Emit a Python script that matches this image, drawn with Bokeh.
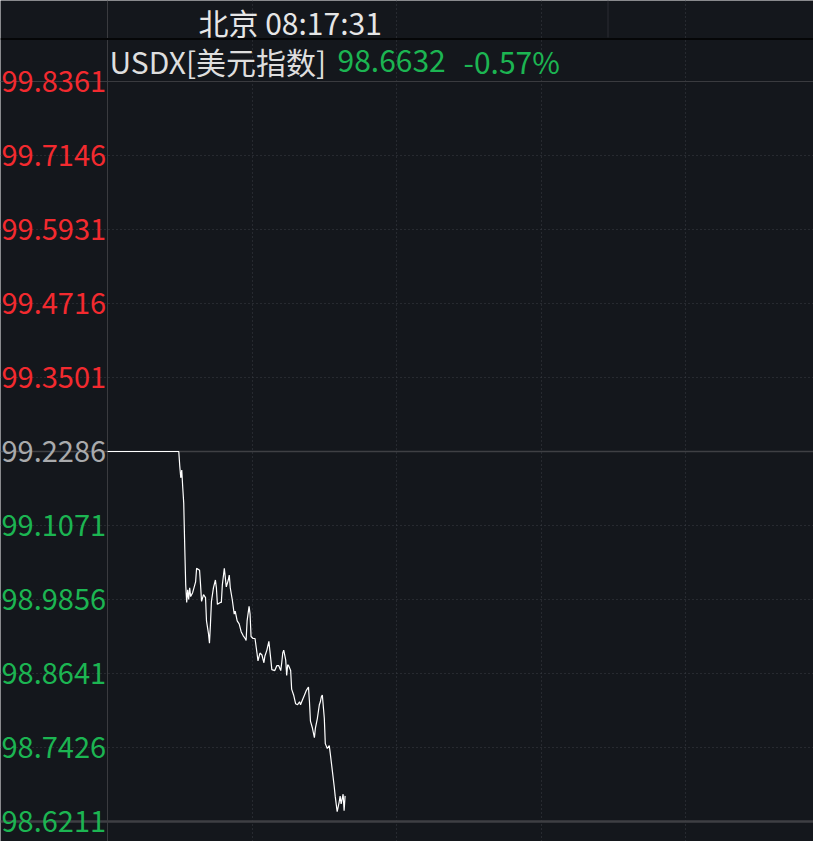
from bokeh.plotting import figure
from bokeh.models import Range1d, Span, Grid, FixedTicker, ColumnDataSource
from bokeh.core.properties import value
from bokeh.embed import file_html
from bokeh.resources import INLINE

# ---------------- data ----------------
title_text = "北京 08:17:31"
symbol_text = "USDX[美元指数]"
last_price_text = "98.6632"
change_text = "-0.57%"

prev_close = 99.2286
y_ticks = [99.8361, 99.7146, 99.5931, 99.4716, 99.3501, 99.2286,
           99.1071, 98.9856, 98.8641, 98.7426, 98.6211]
y_tick_labels = ["99.8361", "99.7146", "99.5931", "99.4716", "99.3501", "99.2286",
                 "99.1071", "98.9856", "98.8641", "98.7426", "98.6211"]
x_ticks = [146, 292, 438, 584]

minutes = [0, 72, 73, 74, 75, 76, 77, 78, 79, 80, 81, 82, 83, 84, 86, 89, 90, 93, 94, 95,
           97, 99, 100, 102, 103, 104, 105, 107, 109, 110, 111, 114, 115, 116, 118, 120, 122, 123, 124, 126,
           128, 129, 131, 133, 135, 137, 139, 140, 141, 143, 144, 145, 147, 149, 151, 152, 154, 156, 158, 159,
           161, 163, 165, 166, 169, 171, 173, 175, 176, 177, 178, 180, 181, 182, 183, 185, 186, 188, 190, 192,
           194, 195, 197, 199, 201, 203, 204, 205, 207, 209, 210, 212, 214, 215, 216, 217, 219, 220, 222, 224,
           225, 227, 229, 230, 232, 234, 235, 236, 238, 239, 240]
prices = [99.2286, 99.2286, 99.2046, 99.1854, 99.1982, 99.1694, 99.1439, 99.0735, 99.0096, 98.9808,
          99.0016, 98.9856, 99.0048, 98.9904, 98.9968, 99.0144, 99.0368, 99.0336, 99.0096, 98.9824,
          98.9936, 98.9888, 98.9504, 98.9296, 98.9137, 98.9456, 98.9824, 99.0048, 99.0176, 99.0048,
          98.9776, 98.9808, 98.9808, 99.0096, 99.0368, 99.0064, 99.0176, 99.0256, 99.0048, 98.9856,
          98.9616, 98.9664, 98.9504, 98.9456, 98.9328, 98.9264, 98.9216, 98.9185, 98.9504, 98.9744,
          98.9616, 98.9248, 98.9216, 98.9216, 98.8977, 98.8849, 98.8977, 98.8945, 98.8817, 98.8929,
          98.9025, 98.9169, 98.8865, 98.8705, 98.8689, 98.8769, 98.8769, 98.8689, 98.8817, 98.8977,
          98.9025, 98.8865, 98.8609, 98.8785, 98.8769, 98.8689, 98.8385, 98.8289, 98.8145, 98.8129,
          98.8177, 98.8129, 98.8209, 98.8289, 98.8369, 98.8417, 98.8177, 98.7858, 98.7746, 98.7586,
          98.7746, 98.7906, 98.8129, 98.8177, 98.8257, 98.8289, 98.7906, 98.7490, 98.7410, 98.7458,
          98.7330, 98.7058, 98.6786, 98.6627, 98.6371, 98.6531, 98.6627, 98.6499, 98.6659, 98.6387,
          98.6632]

# ---------------- geometry / styles ----------------
BG = "#14171c"
RED = "#f32a2f"
GREEN = "#1cb552"
GREY_LBL = "#a9aaac"
FONT = "Noto Sans CJK SC"
W, H = 813, 841
FL, FT, FB = 107, 81, 821     # chart area left / top / bottom (canvas px)
PX_X = 0.99                   # canvas px per minute

py = (FB - FT) / (y_ticks[0] - y_ticks[-1])
x_start = -FL / PX_X
x_end = (W - FL) / PX_X
y_top = y_ticks[0] + FT / py
y_bot = y_ticks[-1] - (H - FB) / py

def dx(cx):
    return x_start + cx / PX_X

def dy(cy):
    return y_top - cy / py

p = figure(width=W, height=H, output_backend="svg", toolbar_location=None,
           x_range=Range1d(x_start, x_end), y_range=Range1d(y_bot, y_top),
           x_axis_location=None, y_axis_location=None,
           min_border=0, background_fill_color=BG, border_fill_color=BG,
           outline_line_color=None)
p.xgrid.grid_line_color = None
p.ygrid.grid_line_color = None

xb = (y_ticks[-1], y_ticks[0])
yb = (0, x_end)
p.add_layout(Grid(dimension=0, ticker=FixedTicker(ticks=x_ticks), bounds=xb,
                  grid_line_color="#3b3e44", grid_line_dash="1 3", grid_line_width=1))
p.add_layout(Grid(dimension=1, ticker=FixedTicker(ticks=[t for t in y_ticks[1:-1] if t != prev_close]),
                  bounds=yb, grid_line_color="#3b3e44", grid_line_dash="1 3", grid_line_width=1))
# frame borders and previous-close line
p.add_layout(Grid(dimension=1, ticker=FixedTicker(ticks=[y_ticks[0]]), bounds=yb,
                  grid_line_color="#3a3b3f", grid_line_width=1))
p.add_layout(Grid(dimension=1, ticker=FixedTicker(ticks=[y_ticks[-1]]), bounds=yb,
                  grid_line_color="#3e3f43", grid_line_width=2.5))
p.add_layout(Grid(dimension=0, ticker=FixedTicker(ticks=[0]), bounds=xb,
                  grid_line_color="#3a3b3f", grid_line_width=1))
p.add_layout(Grid(dimension=1, ticker=FixedTicker(ticks=[prev_close]), bounds=yb,
                  grid_line_color="#3f4044", grid_line_width=1.6))

p.line(minutes, prices, line_color="#ffffff", line_width=1.2)

# y tick labels
cols = [RED if t > prev_close else (GREEN if t < prev_close else GREY_LBL) for t in y_ticks]
src = ColumnDataSource(dict(x=[dx(1)] * len(y_ticks), y=y_ticks, text=y_tick_labels, c=cols))
p.text(x="x", y="y", text="text", text_color="c", source=src, text_font=value(FONT),
       text_font_size="29px", text_baseline="middle", text_align="left")

# header
p.add_layout(Span(location=dy(38.5), dimension="width", line_color="#050607", line_width=2,
                  level="underlay"))
p.segment(x0=[dx(607.5)], y0=[dy(0)], x1=[dx(607.5)], y1=[dy(37)], line_color="#2a2d33",
          line_width=1)
hsrc = ColumnDataSource(dict(
    x=[dx(198), dx(109), dx(337), dx(463)],
    y=[dy(21), dy(60), dy(60), dy(60)],
    text=[title_text, symbol_text, last_price_text, change_text],
    c=["#e6e6e6", "#dedede", GREEN, GREEN]))
p.text(x="x", y="y", text="text", text_color="c", source=hsrc, text_font=value(FONT),
       text_font_size="30px", text_baseline="middle", text_align="left")

open("out.html", "w").write(file_html(p, INLINE))
